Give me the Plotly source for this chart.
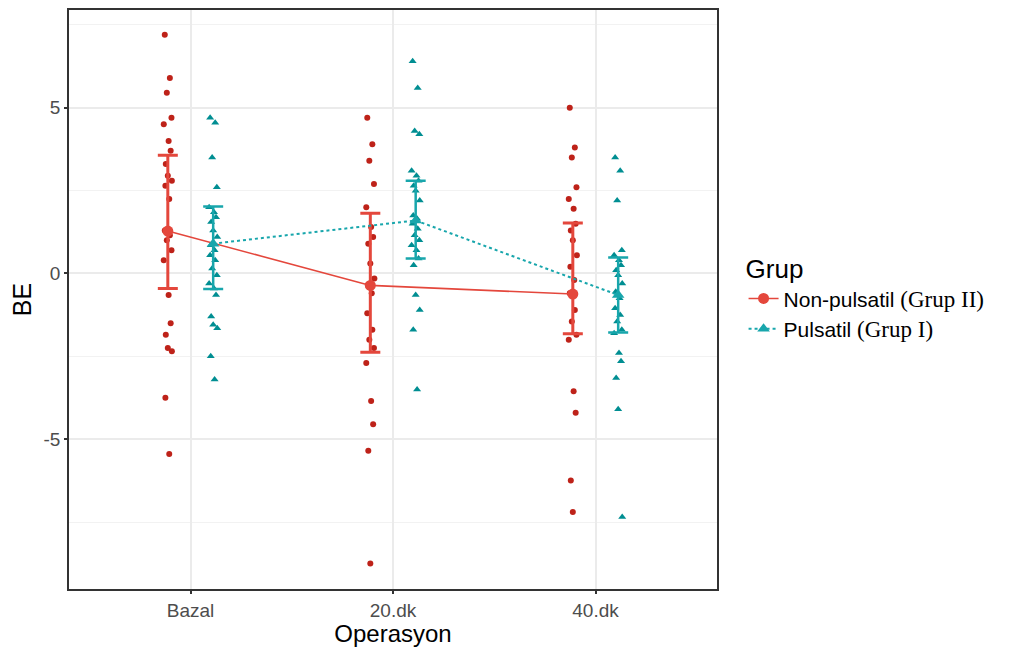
import plotly.graph_objects as go

categories = ["Bazal", "20.dk", "40.dk"]
cat_pos = [1, 2, 3]

# Individual BE values per group and time point
red_bazal = [7.2, 5.9, 5.45, 4.7, 4.5, 4.0, 3.7, 3.3, 2.95, 2.8, 2.65, 2.25, 1.3, 1.15,
             1.0, 0.7, 0.4, -0.65, -1.5, -1.85, -2.25, -2.35, -3.75, -5.45]
red_20 = [4.7, 3.9, 3.4, 2.7, 2.0, 1.4, 1.1, 0.9, 0.3, -0.15, -0.35, -0.6, -1.2, -1.7,
          -2.0, -2.25, -2.7, -3.85, -4.55, -5.35, -8.75]
red_40 = [5.0, 3.8, 3.5, 2.6, 2.25, 1.95, 1.5, 1.3, 1.0, 0.55, 0.2, -0.2, -0.6, -1.1,
          -1.45, -1.85, -2.0, -3.55, -4.2, -6.25, -7.2]
teal_bazal = [4.7, 4.55, 3.5, 2.6, 2.0, 1.85, 1.7, 1.55, 1.3, 1.1, 0.85, 0.7, 0.55, 0.4,
              0.15, -0.05, -0.3, -0.45, -0.65, -1.3, -1.55, -1.65, -2.5, -3.2]
teal_20 = [6.4, 5.6, 4.3, 4.2, 3.1, 2.95, 2.8, 2.65, 2.5, 2.2, 1.75, 1.65, 1.5, 1.35,
           1.15, 1.0, 0.85, 0.7, 0.45, 0.25, -0.65, -1.1, -1.7, -3.5]
teal_40 = [3.5, 3.1, 2.2, 0.7, 0.55, 0.4, 0.25, 0.1, -0.05, -0.3, -0.55, -0.75, -1.05,
           -1.25, -1.45, -1.7, -1.8, -2.4, -2.65, -3.15, -4.1, -7.35]

# Means and error bar limits
red_mean = [1.28, -0.36, -0.62]
red_upper = [3.57, 1.82, 1.52]
red_lower = [-0.45, -2.38, -1.82]
teal_mean = [0.9, 1.6, -0.65]
teal_upper = [2.02, 2.8, 0.48]
teal_lower = [-0.47, 0.45, -1.78]

red_name = "Non-pulsatil <span style='font-family:Liberation Serif;font-size:23px'>(Grup II)</span>"
teal_name = "Pulsatil <span style='font-family:Liberation Serif;font-size:23px'>(Grup I)</span>"

DODGE = 0.112
jit = [-0.015, 0.01, -0.005, 0.018, -0.02, 0.004, 0.014, -0.01, 0.0, 0.02, -0.012, 0.007]

RED_PT = "#BE2219"
RED_LN = "#E4473C"
TEAL_PT = "#008E92"
TEAL_LN = "#18A6AC"

fig = go.Figure()

def add_points(vals_list, sign, color, symbol, size):
    for p, vals in zip(cat_pos, vals_list):
        xs = [p + sign * DODGE + jit[i % len(jit)] for i in range(len(vals))]
        fig.add_trace(go.Scatter(x=xs, y=vals, mode="markers", showlegend=False,
                                 marker=dict(color=color, symbol=symbol, size=size),
                                 hoverinfo="y"))

add_points([red_bazal, red_20, red_40], -1, RED_PT, "circle", 6)
add_points([teal_bazal, teal_20, teal_40], 1, TEAL_PT, "triangle-up", 7)

fig.add_trace(go.Scatter(
    x=[p - DODGE for p in cat_pos], y=red_mean, mode="lines+markers", name=red_name,
    line=dict(color=RED_LN, width=1.6),
    marker=dict(color=RED_LN, symbol="circle", size=11),
    error_y=dict(type="data", symmetric=False,
                 array=[u - m for u, m in zip(red_upper, red_mean)],
                 arrayminus=[m - l for m, l in zip(red_mean, red_lower)],
                 color=RED_LN, thickness=3, width=10)))

fig.add_trace(go.Scatter(
    x=[p + DODGE for p in cat_pos], y=teal_mean, mode="lines+markers", name=teal_name,
    line=dict(color=TEAL_LN, width=2, dash="dot"),
    marker=dict(color=TEAL_LN, symbol="triangle-up", size=11),
    error_y=dict(type="data", symmetric=False,
                 array=[u - m for u, m in zip(teal_upper, teal_mean)],
                 arrayminus=[m - l for m, l in zip(teal_mean, teal_lower)],
                 color=TEAL_LN, thickness=2.5, width=10)))

axis_common = dict(showline=True, mirror=True, linecolor="#333333", linewidth=1.5,
                   ticks="outside", ticklen=3, tickcolor="#333333", tickwidth=1.5,
                   gridcolor="#EBEBEB", gridwidth=1.5, zeroline=False,
                   tickfont=dict(family="Liberation Sans", size=19, color="#4D4D4D"))

fig.update_layout(
    width=1001, height=639,
    margin=dict(l=61, r=292, t=0, b=56),
    paper_bgcolor="white", plot_bgcolor="white",
    font=dict(family="Liberation Sans", color="black"),
    xaxis=dict(range=[0.4, 3.6], tickvals=cat_pos, ticktext=categories,
               title=dict(text="Operasyon", font=dict(size=24), standoff=10),
               **axis_common),
    yaxis=dict(range=[-9.52, 7.95], tickvals=[-5, 0, 5], ticktext=["-5", "0", "5"],
               title=dict(text="BE", font=dict(size=25), standoff=6),
               minor=dict(dtick=2.5, tick0=0, showgrid=True, gridcolor="#F2F2F2",
                          gridwidth=1, ticks=""),
               **axis_common),
    legend=dict(x=1.041, y=0.595, xanchor="left", yanchor="top",
                title=dict(text="Grup", font=dict(size=26)),
                font=dict(size=21, color="black"), traceorder="normal",
                bgcolor="rgba(0,0,0,0)"),
)

fig.write_html("out.html")
